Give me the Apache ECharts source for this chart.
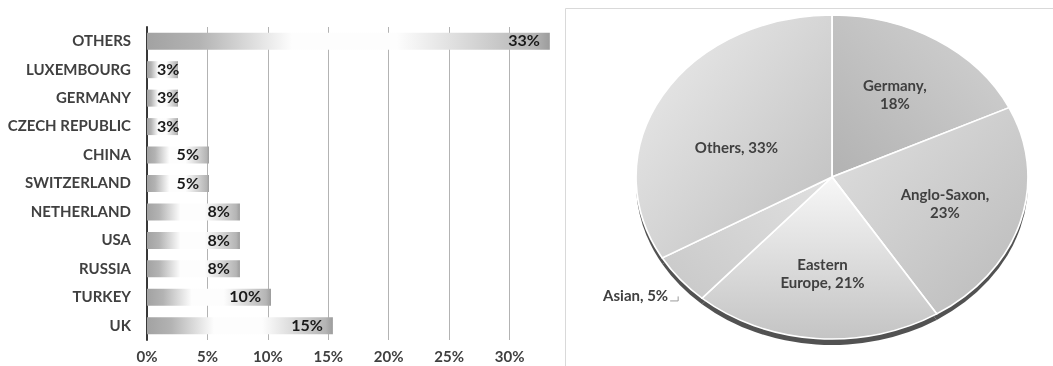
<!DOCTYPE html>
<html><head><meta charset="utf-8">
<script src="https://cdn.jsdelivr.net/npm/echarts@6/dist/echarts.min.js"></script>
<style>
html,body{margin:0;padding:0;width:1053px;height:366px;overflow:hidden;background:#fff;}
#pie{position:absolute;top:0;width:400px;height:366px;transform-origin:200px 0;z-index:1;}
#main{position:absolute;left:0;top:0;width:1053px;height:366px;z-index:2;}
</style></head><body>
<div id="pie"></div><div id="main"></div>
<script>
// ---- data ----
const countries = ['OTHERS','LUXEMBOURG','GERMANY','CZECH REPUBLIC','CHINA','SWITZERLAND','NETHERLAND','USA','RUSSIA','TURKEY','UK'];
const countryShares = [33.33, 2.56, 2.56, 2.56, 5.13, 5.13, 7.69, 7.69, 7.69, 10.26, 15.38];
const xTickValues = [0, 5, 10, 15, 20, 25, 30];
const regions = ['Germany', 'Anglo-Saxon', 'Eastern\nEurope', 'Asian', 'Others'];
const regionShares = [17.95, 23.08, 20.51, 5.13, 33.33];
const regionLabelSep = [',\n', ',\n', ', ', ', ', ', '];

// ---- pie geometry (styling) ----
const pieCx = 832, pieCy = 177, pieR = 162, pieScale = 1.21, pieBoxW = 400;
const pieDiv = document.getElementById('pie');
pieDiv.style.left = (pieCx - pieBoxW / 2) + 'px';
pieDiv.style.transform = 'scaleX(' + pieScale + ')';

const FONT = 'Lato';
const G = echarts.graphic.LinearGradient;
const sectorFills = [
  new G(0, 1, 1, 0, [{offset: 0, color: '#b2b2b2'}, {offset: 1, color: '#d3d3d3'}]),
  new G(0, 0, 1, 1, [{offset: 0, color: '#e0e0e0'}, {offset: 1, color: '#bababa'}]),
  new G(0, 0, 0, 1, [{offset: 0, color: '#f7f7f7'}, {offset: 1, color: '#c4c4c4'}]),
  new G(1, 0, 0, 1, [{offset: 0, color: '#e0e0e0'}, {offset: 1, color: '#c8c8c8'}]),
  new G(0, 0, 1, 1, [{offset: 0, color: '#ededed'}, {offset: 1, color: '#bdbdbd'}])
];

const pieChart = echarts.init(pieDiv, null, {renderer: 'svg'});
pieChart.setOption({
  animation: false,
  series: [
    {
      type: 'pie', silent: true, center: [pieBoxW / 2, pieCy + 6], radius: [0, pieR],
      startAngle: 90, clockwise: true,
      data: regionShares.map(v => ({value: v})),
      itemStyle: {color: '#525252', borderWidth: 0},
      label: {show: false}, labelLine: {show: false}, z: 1
    },
    {
      type: 'pie', silent: true, center: [pieBoxW / 2, pieCy], radius: [0, pieR],
      startAngle: 90, clockwise: true,
      data: regions.map((n, i) => ({name: n, value: regionShares[i], itemStyle: {color: sectorFills[i]}})),
      itemStyle: {borderColor: '#ffffff', borderWidth: 1.5},
      label: {show: false}, labelLine: {show: false}, z: 2
    }
  ]
});

// ---- pie labels computed from the data angles ----
const total = regionShares.reduce((a, b) => a + b, 0);
const rx = pieR * pieScale, ry = pieR;
const pieGraphics = [];
let acc = 0;
regions.forEach((name, i) => {
  const a0 = acc / total * 2 * Math.PI;
  acc += regionShares[i];
  const a1 = acc / total * 2 * Math.PI;
  const share = regionShares[i] / total;
  // large slices: Excel pulls the label towards the slice's visual centre
  const mid = (a0 + a1) / 2 - (share > 0.3 ? 0.17 : 0);
  const text = name + regionLabelSep[i] + Math.round(regionShares[i]) + '%';
  if (regionShares[i] < 8) {
    const ex = pieCx + rx * Math.sin(mid), ey = pieCy - ry * Math.cos(mid);
    pieGraphics.push({type: 'text', z: 50, style: {text: text, x: ex - 12, y: ey + 17, align: 'right', verticalAlign: 'middle', fill: '#404040', font: 'bold 15px ' + FONT}});
    pieGraphics.push({type: 'polyline', z: 50, shape: {points: [[ex - 10, ey + 21.5], [ex - 2, ey + 21.5], [ex - 2, ey + 17]]}, style: {stroke: '#9a9a9a', lineWidth: 1, fill: null}});
  } else {
    const f = share > 0.3 ? 0.52 : 0.6;
    pieGraphics.push({type: 'text', z: 50, style: {text: text, x: pieCx + f * rx * Math.sin(mid), y: pieCy - f * ry * Math.cos(mid), align: 'center', verticalAlign: 'middle', fill: '#404040', font: 'bold 15px ' + FONT, lineHeight: 18}});
  }
});

// ---- bar chart ----
const barFill = new G(0, 0, 1, 0, [
  {offset: 0, color: '#a2a2a2'}, {offset: 0.13, color: '#b3b3b3'},
  {offset: 0.36, color: '#fdfdfd'}, {offset: 0.62, color: '#fdfdfd'},
  {offset: 0.96, color: '#b5b5b5'}, {offset: 1, color: '#9c9c9c'}
]);

const chart = echarts.init(document.getElementById('main'));
chart.setOption({
  animation: false,
  backgroundColor: 'transparent',
  grid: {left: 147, right: 483, top: 27, bottom: 26, containLabel: false},
  xAxis: {
    type: 'value', min: 0, max: 35, interval: 5,
    axisLine: {show: false}, axisTick: {show: false},
    axisLabel: {
      showMaxLabel: false, margin: 10, color: '#404040', fontFamily: FONT, fontWeight: 'bold', fontSize: 15,
      formatter: v => xTickValues.indexOf(v) >= 0 ? v + '%' : ''
    },
    splitLine: {show: true, showMaxLine: false, lineStyle: {color: '#b3b3b3', width: 1}}
  },
  yAxis: {
    type: 'category', data: countries, inverse: true,
    axisLine: {show: true, lineStyle: {color: '#383838', width: 2}},
    axisTick: {show: false},
    axisLabel: {margin: 16, color: '#404040', fontFamily: FONT, fontWeight: 'bold', fontSize: 15}
  },
  series: [{
    type: 'bar', data: countryShares, barWidth: 17,
    itemStyle: {color: barFill},
    label: {
      show: true, position: 'insideRight', distance: 10,
      formatter: p => Math.round(p.value) + '%',
      color: '#1a1a1a', fontFamily: FONT, fontWeight: 'bold', fontSize: 16
    },
    labelLayout: p => ({dx: Math.max(0, 157 - p.labelRect.x)})
  }],
  graphic: [
    {type: 'rect', z: -10, silent: true, shape: {x: 565.5, y: 8.5, width: 600, height: 500}, style: {fill: 'none', stroke: '#d9d9d9', lineWidth: 1}}
  ].concat(pieGraphics)
});
</script>
</body></html>
